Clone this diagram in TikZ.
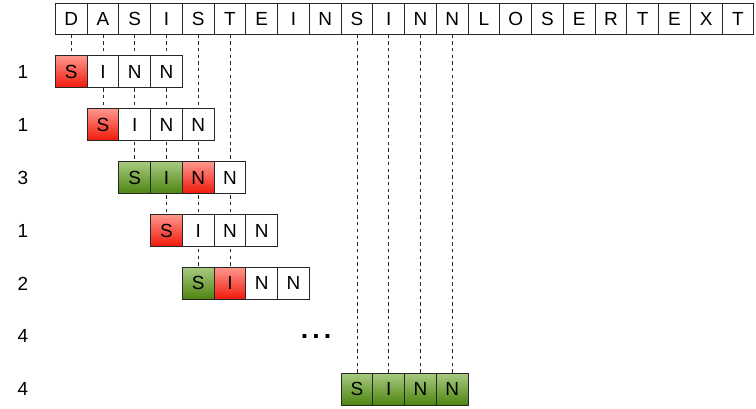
\documentclass[tikz,border=0pt]{standalone}
\usepackage{fontspec}
\setmainfont{Liberation Sans}
\usetikzlibrary{positioning,backgrounds}

\definecolor{misstop}{RGB}{255,150,140}
\definecolor{missbot}{RGB}{240,25,10}
\definecolor{hittop}{RGB}{168,202,128}
\definecolor{hitbot}{RGB}{76,132,16}

\begin{document}
\begin{tikzpicture}[node distance=1cm,on grid,
                    every node/.style={font=\fontsize{17}{20}\selectfont},
                    letter/.style={draw=black!85,fill=white,line width=0.7pt,minimum size=1cm,inner sep=0pt,outer sep=0pt},
                    miss/.style={letter,top color=misstop,bottom color=missbot},
                    hit/.style={letter,top color=hittop,bottom color=hitbot},
                    count/.style={minimum size=1cm,inner sep=0pt},
                    probe/.style={dashed,line width=0.6pt,black!85}]

      \useasboundingbox (-2.242,0.592) rectangle (21.568,-12.258);

      % text
      \node[letter] (t0) {D};
      \node[letter] (t1) [right=of t0] {A};
      \node[letter] (t2) [right=of t1] {S};
      \node[letter] (t3) [right=of t2] {I};
      \node[letter] (t4) [right=of t3] {S};
      \node[letter] (t5) [right=of t4] {T};
      \node[letter] (t6) [right=of t5] {E};
      \node[letter] (t7) [right=of t6] {I};
      \node[letter] (t8) [right=of t7] {N};
      \node[letter] (t9) [right=of t8] {S};
      \node[letter] (t10) [right=of t9] {I};
      \node[letter] (t11) [right=of t10] {N};
      \node[letter] (t12) [right=of t11] {N};
      \node[letter] (t13) [right=of t12] {L};
      \node[letter] (t14) [right=of t13] {O};
      \node[letter] (t15) [right=of t14] {S};
      \node[letter] (t16) [right=of t15] {E};
      \node[letter] (t17) [right=of t16] {R};
      \node[letter] (t18) [right=of t17] {T};
      \node[letter] (t19) [right=of t18] {E};
      \node[letter] (t20) [right=of t19] {X};
      \node[letter] (t21) [right=of t20] {T};

      % pattern, shifted
      \node[miss] (r1a) [below=1.667cm of t0] {S};
      \node[letter] (r1b) [right=of r1a] {I};
      \node[letter] (r1c) [right=of r1b] {N};
      \node[letter] (r1d) [right=of r1c] {N};

      \node[miss] (r2a) [below=1.667cm of r1b] {S};
      \node[letter] (r2b) [right=of r2a] {I};
      \node[letter] (r2c) [right=of r2b] {N};
      \node[letter] (r2d) [right=of r2c] {N};

      \node[hit] (r3a) [below=1.667cm of r2b] {S};
      \node[hit] (r3b) [right=of r3a] {I};
      \node[miss] (r3c) [right=of r3b] {N};
      \node[letter] (r3d) [right=of r3c] {N};

      \node[miss] (r4a) [below=1.667cm of r3b] {S};
      \node[letter] (r4b) [right=of r4a] {I};
      \node[letter] (r4c) [right=of r4b] {N};
      \node[letter] (r4d) [right=of r4c] {N};

      \node[hit] (r5a) [below=1.667cm of r4b] {S};
      \node[miss] (r5b) [right=of r5a] {I};
      \node[letter] (r5c) [right=of r5b] {N};
      \node[letter] (r5d) [right=of r5c] {N};

      \node[hit] (r7a) [below=11.667cm of t9] {S};
      \node[hit] (r7b) [right=of r7a] {I};
      \node[hit] (r7c) [right=of r7b] {N};
      \node[hit] (r7d) [right=of r7c] {N};

      % comparisons per shift
      \node[count] (l1) [left=1.518cm of r1a] {1};
      \node[count] (l2) [below=1.667cm of l1] {1};
      \node[count] (l3) [below=1.667cm of l2] {3};
      \node[count] (l4) [below=1.667cm of l3] {1};
      \node[count] (l5) [below=1.667cm of l4] {2};
      \node[count] (l6) [below=1.667cm of l5] {4};
      \node[count] (l7) [below=1.667cm of l6] {4};
      \node (dots) [right=9.23cm of l6] {\fontsize{24}{24}\selectfont\textbf{.\hspace{3.6pt}.\hspace{3.6pt}.}};

      \begin{pgfonlayer}{background}
        \path[probe]
          (t0.south) edge (r1a.north)
          (t1.south) edge (r2a.north)
          (t2.south) edge (r3a.north)
          (t3.south) edge (r4a.north)
          (t4.south) edge (r5a.north)
          (t5.south) edge (r5b.north)
          (t9.south) edge (r7a.north)
          (t10.south) edge (r7b.north)
          (t11.south) edge (r7c.north)
          (t12.south) edge (r7d.north);
      \end{pgfonlayer}
    \end{tikzpicture}
\end{document}
